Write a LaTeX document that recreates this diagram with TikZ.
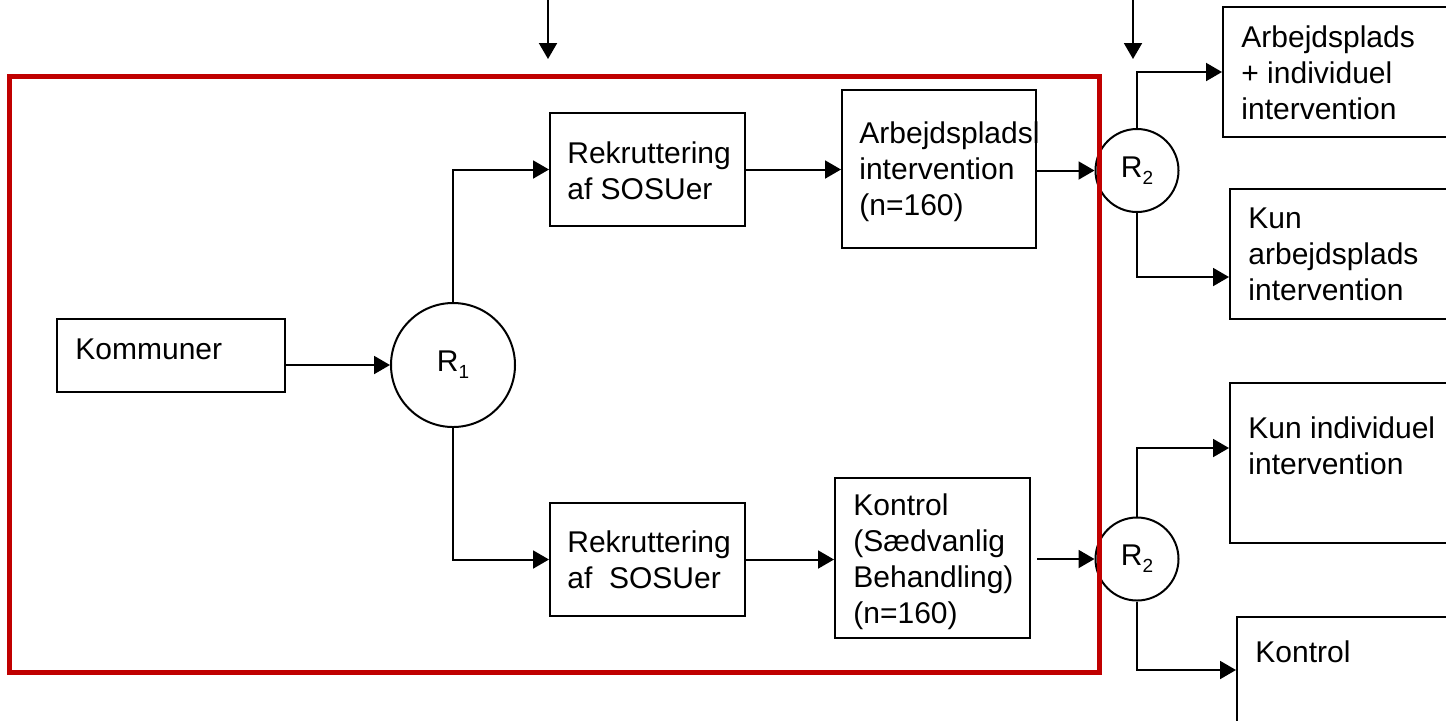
\documentclass[tikz,border=0pt]{standalone}
\usepackage{fontspec}
\setmainfont{Liberation Sans}
\usetikzlibrary{arrows.meta}
\definecolor{boxred}{RGB}{192,0,0}
\newcommand{\rsub}[1]{R\raisebox{-3.5pt}{\fontsize{9.5pt}{9.5pt}\selectfont #1}}
\begin{document}
\begin{tikzpicture}[x=0.5pt,y=-0.5pt,
  box/.style={draw, line width=1pt, inner sep=0pt, rectangle},
  rnd/.style={draw, circle, line width=1pt, inner sep=0pt, font=\fontsize{15pt}{18pt}\selectfont},
  txt/.style={inner sep=0pt, align=left, font=\fontsize{15pt}{18pt}\selectfont},
  conn/.style={line width=1pt, -{Triangle[length=8pt,width=9pt]}},
]
\useasboundingbox (0,0) rectangle (1446,720);
\clip (0,0) rectangle (1446,720);

% boxes
\node[box, minimum width=114pt, minimum height=36.5pt] (komm) at (171,355.5) {};
\node[box, minimum width=97.5pt, minimum height=56.5pt] (rek1) at (647.5,169.5) {};
\node[box, minimum width=97pt, minimum height=79pt] (arb) at (939,169) {};
\node[box, minimum width=97.5pt, minimum height=56.5pt] (rek2) at (647.5,559.5) {};
\node[box, minimum width=97.5pt, minimum height=80pt] (kon) at (932.5,558) {};
\node[box, minimum width=138.5pt, minimum height=65pt] (ai) at (1361.5,72) {};
\node[box, minimum width=135pt, minimum height=65pt] (ka) at (1365,254) {};
\node[box, minimum width=135pt, minimum height=80pt] (ki) at (1365,463) {};
\node[box, minimum width=131.5pt, minimum height=81.5pt] (k) at (1368.5,698.5) {};

% circles
\node[rnd, minimum size=62pt] (R1) at (453,365) {\rsub{1}};
\node[rnd, minimum size=41.5pt] (R2a) at (1137,170.5) {\rsub{2}};
\node[rnd, minimum size=41.5pt] (R2b) at (1137,559) {\rsub{2}};

% texts
\node[txt, anchor=base west] (kommt) at (75,359) {Kommuner};
\node[txt, anchor=north west] (rek1t) at (567,141.5) {Rekruttering\\af SOSUer};
\node[txt, anchor=north west] (arbt) at (859,121) {Arbejdspladsl\\intervention\\(n=160)};
\node[txt, anchor=north west] (rek2t) at (567,530) {Rekruttering\\af~~SOSUer};
\node[txt, anchor=north west] (kont) at (853,493) {Kontrol\\(Sædvanlig\\Behandling)\\(n=160)};
\node[txt, anchor=north west] (ait) at (1241,25) {Arbejdsplads\\+ individuel\\intervention};
\node[txt, anchor=north west] (kat) at (1248,207) {Kun\\arbejdsplads\\intervention};
\node[txt, anchor=north west] (kit) at (1248,416) {Kun individuel\\intervention};
\node[txt, anchor=base west] (kt) at (1255,662) {Kontrol};

% connectors
\draw[conn] (komm.east |- R1.west) -- (R1.west);
\draw[conn] (R1.north) |- (rek1.west);
\draw[conn] (R1.south) |- (rek2.west);
\draw[conn] (rek1.east) -- (arb.west |- rek1.east);
\draw[conn] (rek2.east) -- (kon.west |- rek2.east);
\draw[conn] (arb.east |- R2a.west) -- (R2a.west);
\draw[conn] ([xshift=3pt]kon.east |- R2b.west) -- (R2b.west);
\draw[conn] (R2a.north) |- (ai.west);
\draw[conn] (R2a.south) |- ([yshift=-11.5pt]ka.west);
\draw[conn] (R2b.north) |- ([yshift=7.5pt]ki.west);
\draw[conn] (R2b.south) |- ([yshift=14.25pt]k.west);

% incoming arrows from top
\coordinate (in1) at (548,-4);
\coordinate (in1e) at (548,59);
\coordinate (in2) at (1133,-4);
\coordinate (in2e) at (1133,59);
\draw[conn] (in1) -- (in1e);
\draw[conn] (in2) -- (in2e);

% red frame
\draw[boxred, line width=2.5pt] (9.5,76.5) rectangle (1099.5,672);
\end{tikzpicture}
\end{document}
